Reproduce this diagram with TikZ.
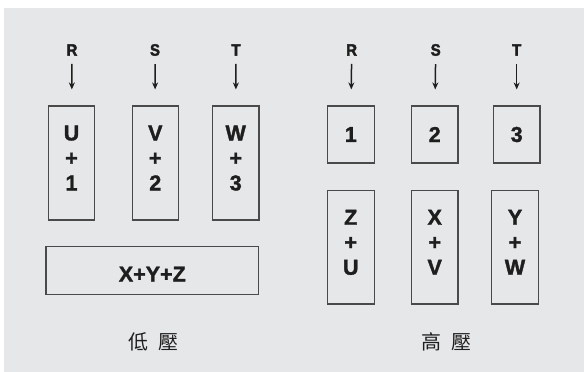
\documentclass[tikz,border=0pt]{standalone}
\usepackage{fontspec}
\setmainfont{Liberation Sans}
\newfontfamily\heavy{Liberation Sans Bold}[FakeBold=1.6]
\newfontfamily\heavycond{Liberation Sans Bold}[FakeStretch=0.9, FakeBold=2.6]
\newfontfamily\cjk{Noto Sans CJK TC}
\usetikzlibrary{arrows.meta}
\definecolor{panelgray}{HTML}{E6E7E9}
\definecolor{inkgray}{HTML}{1E1E1E}
\definecolor{linegray}{HTML}{4A4A4A}

\begin{document}
\begin{tikzpicture}[x=1pt,y=-1pt,
  wind/.style={draw=linegray, line width=1.1pt, text=inkgray, inner sep=0pt,
    font=\heavy\fontsize{21.5}{25}\selectfont, align=center, minimum width=46.5pt},
  phase/.style={text=inkgray, inner sep=0pt, font=\heavycond\fontsize{16.5}{16.5}\selectfont},
  feed/.style={-{Stealth[length=7pt,width=6pt]}, draw=inkgray, line width=1.5pt,
    shorten <=8pt, shorten >=16pt},
  volt/.style={text=inkgray, inner sep=0pt, font=\cjk\fontsize{20}{20}\selectfont}]
  % panel, y runs downward
  \useasboundingbox (0,0) rectangle (584,372);
  \fill[panelgray] (4,8) rectangle (584,372);

  % low voltage: three windings in series pairs, star point below
  \node[wind, minimum height=114pt, text depth=10pt] (lowU) at (71.5,163) {U\\+\\1};
  \node[wind, minimum height=114pt, text depth=10pt] (lowV) at (155.3,163) {V\\+\\2};
  \node[wind, minimum height=114pt, text depth=10pt] (lowW) at (235.7,163) {W\\+\\3};
  \node[wind, minimum width=212.7pt, minimum height=47.6pt, text height=22pt] (lowXYZ) at (152.3,270.5) {X+Y+Z};

  \node[phase] (lowR) at (72,50) {R};
  \node[phase] (lowS) at (155,50) {S};
  \node[phase] (lowT) at (236,50) {T};
  \draw[feed] (lowR) -- (lowU);
  \draw[feed] (lowS) -- (lowV);
  \draw[feed] (lowT) -- (lowW);

  \node[volt] (lowlbl) at (153,341.7) {低\hspace{10pt}壓};

  % high voltage: terminals on top, delta pairs below
  \node[wind, minimum height=57pt] (hiA) at (350.8,134.5) {1};
  \node[wind, minimum height=57pt] (hiB) at (434.7,134.5) {2};
  \node[wind, minimum height=57pt] (hiC) at (516.7,134.5) {3};
  \node[wind, minimum height=113.3pt, text depth=10pt] (hiZU) at (350.8,247.3) {Z\\+\\U};
  \node[wind, minimum height=113.3pt, text depth=10pt] (hiXV) at (434.7,247.3) {X\\+\\V};
  \node[wind, minimum height=113.3pt, text depth=10pt] (hiYW) at (515,247.3) {Y\\+\\W};

  \node[phase] (hiR) at (351.7,50) {R};
  \node[phase] (hiS) at (435.7,50) {S};
  \node[phase] (hiT) at (516.7,50) {T};
  \draw[feed] (hiR) -- (hiA);
  \draw[feed] (hiS) -- (hiB);
  \draw[feed] (hiT) -- (hiC);

  \node[volt] (hilbl) at (446.7,341.7) {高\hspace{10pt}壓};
\end{tikzpicture}
\end{document}
